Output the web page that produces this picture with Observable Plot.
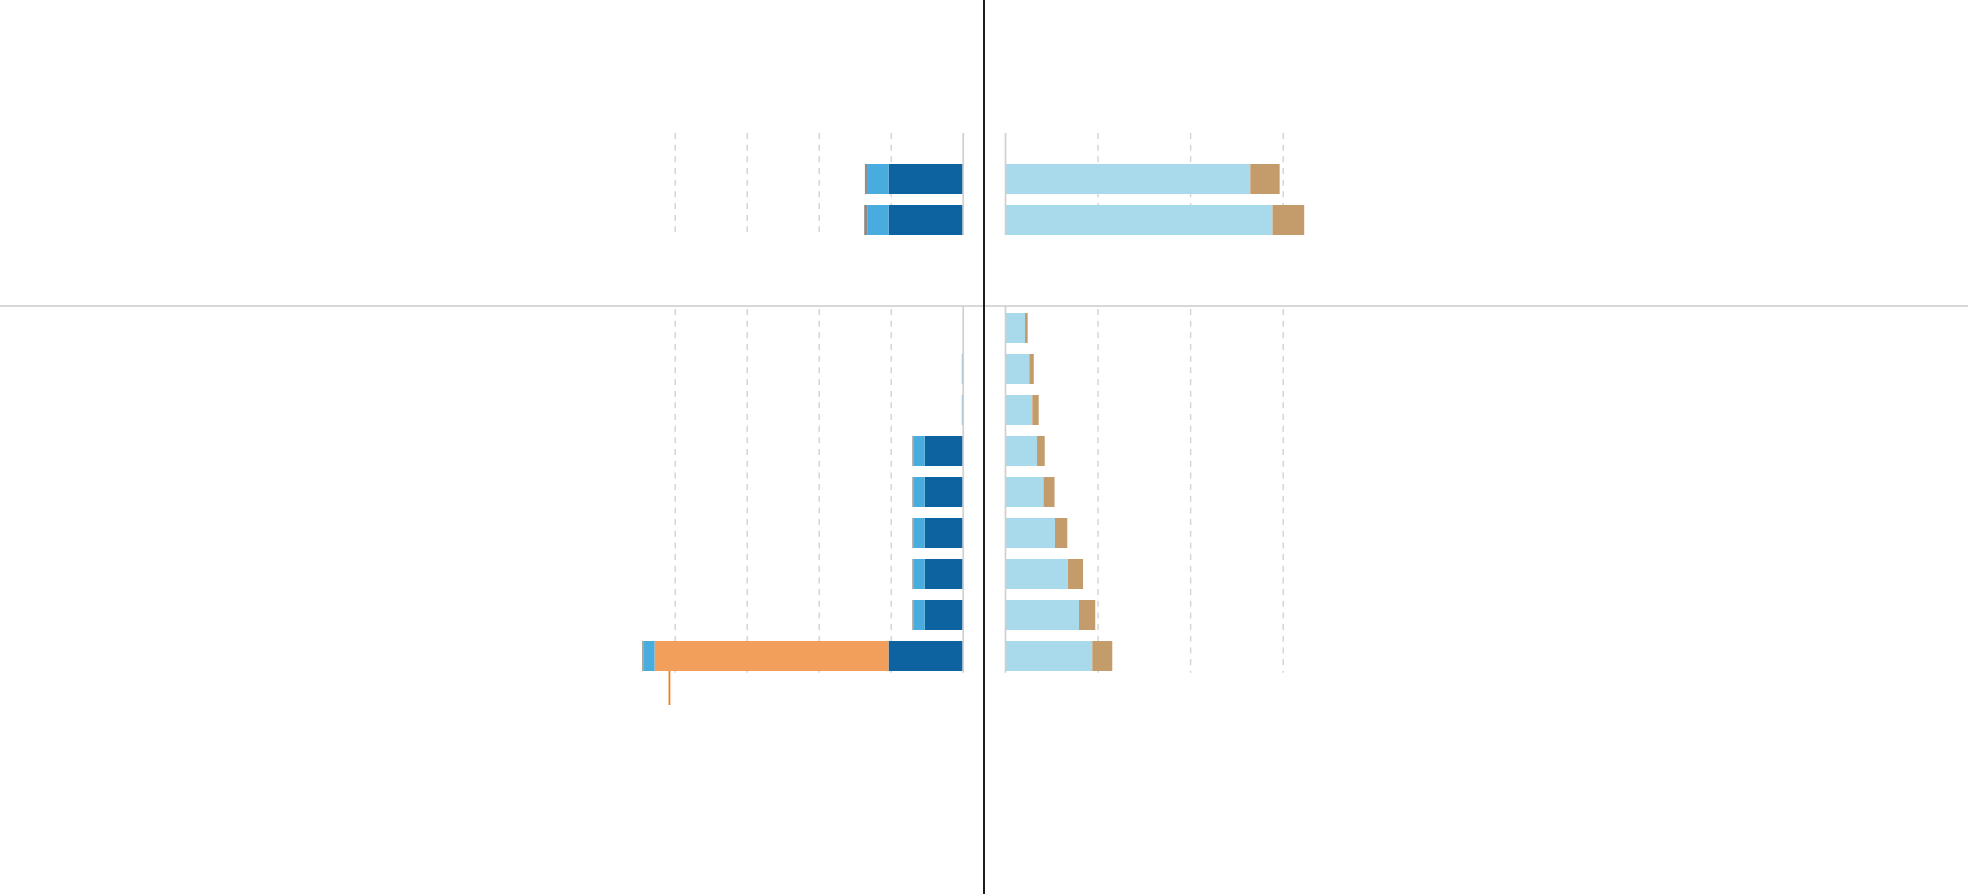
<!DOCTYPE html>
<html>
<head>
<meta charset="utf-8">
<script src="https://cdn.jsdelivr.net/npm/d3@7"></script>
<script src="https://cdn.jsdelivr.net/npm/@observablehq/plot@0.6"></script>
<style>
  html, body { margin: 0; padding: 0; background: #fff; }
  #wrap { position: relative; width: 1968px; height: 894px; overflow: hidden; background: #fff; }
  #wrap svg { position: absolute; left: 0; top: 0; background: transparent; }
  .hline { position: absolute; left: 0; top: 305px; width: 1968px; height: 2px; background: #d8d8d8; }
  .vline { position: absolute; left: 983px; top: 0; width: 2px; height: 894px; background: #1c1c1c; }
</style>
</head>
<body>
<div id="wrap"><div class="hline"></div></div>
<script>
// ---- data ----
const topRows = ["T1", "T2"];
const bottomRows = ["B1", "B2", "B3", "B4", "B5", "B6", "B7", "B8", "B9"];

// left panel (stacked outward from the centre)
const leftSeries = ["dark", "orange", "light", "grey"];
const leftTopDark   = [10.3, 10.3];
const leftTopOrange = [0, 0];
const leftTopLight  = [3.0, 2.96];
const leftTopGrey   = [0.28, 0.42];
const leftBottomDark   = [0, 0, 0, 5.28, 5.28, 5.28, 5.28, 5.28, 10.3];
const leftBottomOrange = [0, 0, 0, 0, 0, 0, 0, 0, 32.5];
const leftBottomLight  = [0, 0.12, 0.12, 1.53, 1.53, 1.53, 1.53, 1.53, 1.53];
const leftBottomGrey   = [0, 0, 0, 0.18, 0.18, 0.18, 0.18, 0.18, 0.18];
const leftTicks = [10, 20, 30, 40];
const markerRow = "B9";
const markerValue = 40.8;

// right panel
const rightSeries = ["sky", "tan"];
const rightTopSky = [26.5, 28.9];
const rightTopTan = [3.17, 3.42];
const rightBottomSky = [2.16, 2.63, 2.95, 3.46, 4.16, 5.40, 6.81, 7.99, 9.43];
const rightBottomTan = [0.29, 0.48, 0.69, 0.83, 1.19, 1.33, 1.62, 1.76, 2.16];
const rightTicks = [10, 20, 30];

const colorDomain = ["dark", "orange", "light", "grey", "sky", "tan"];
const colorRange  = ["#0d62a0", "#f29f5b", "#48acdf", "#8f8a87", "#a8daec", "#c49b6b"];

// ---- helpers ----
function longData(rows, seriesNames, arrays) {
  const out = [];
  rows.forEach((r, i) => {
    seriesNames.forEach((s, j) => out.push({row: r, series: s, value: arrays[j][i]}));
  });
  return out;
}

const W = 1968, H = 894;
const leftX = {domain: [0, 50], range: [962.7, 962.7 - 50 * 7.2], axis: null};
const rightX = {domain: [0, 40], range: [1005, 1005 + 40 * 9.257], axis: null};
const bandOpts = {paddingInner: 0.274, paddingOuter: 0.137, axis: null};
const topY = {domain: topRows, range: [158.3, 240.9], ...bandOpts};
const bottomY = {domain: bottomRows, range: [306.3, 678.4], ...bandOpts};
const color = {domain: colorDomain, range: colorRange};
const gridStyle = {stroke: "#d6d6d6", strokeOpacity: 1, strokeWidth: 1.5, strokeDasharray: "6,5.67"};
const zeroStyle = {stroke: "#d0d0d0", strokeWidth: 1.7};

function panel({x, y, ticks, data, frameTop, frameBottom, gridInsetTop = 0, extra = []}) {
  return Plot.plot({
    width: W, height: H,
    marginTop: frameTop, marginBottom: H - frameBottom, marginLeft: 0, marginRight: 0,
    x, y, color,
    style: {background: "transparent", overflow: "visible"},
    marks: [
      Plot.gridX(ticks, {...gridStyle, insetTop: gridInsetTop}),
      Plot.barX(data, Plot.stackX({x: "value", y: "row", fill: "series"})),
      ...extra,
      Plot.ruleX([0], zeroStyle)
    ]
  });
}

const wrap = document.getElementById("wrap");

wrap.appendChild(panel({
  x: leftX, y: topY, ticks: leftTicks,
  data: longData(topRows, leftSeries, [leftTopDark, leftTopOrange, leftTopLight, leftTopGrey]),
  frameTop: 133, frameBottom: 235
}));

wrap.appendChild(panel({
  x: leftX, y: bottomY, ticks: leftTicks,
  data: longData(bottomRows, leftSeries, [leftBottomDark, leftBottomOrange, leftBottomLight, leftBottomGrey]),
  frameTop: 306, frameBottom: 672.7, gridInsetTop: 3,
  extra: [Plot.tickX([{row: markerRow, value: markerValue}], {
    x: "value", y: "row", stroke: "#f07e1c", strokeWidth: 1.8,
    dy: 32, insetTop: -2, insetBottom: -2
  })]
}));

wrap.appendChild(panel({
  x: rightX, y: topY, ticks: rightTicks,
  data: longData(topRows, rightSeries, [rightTopSky, rightTopTan]),
  frameTop: 133, frameBottom: 235
}));

wrap.appendChild(panel({
  x: rightX, y: bottomY, ticks: rightTicks,
  data: longData(bottomRows, rightSeries, [rightBottomSky, rightBottomTan]),
  frameTop: 306, frameBottom: 672.7, gridInsetTop: 3
}));

const v = document.createElement("div");
v.className = "vline";
wrap.appendChild(v);
</script>
</body>
</html>
